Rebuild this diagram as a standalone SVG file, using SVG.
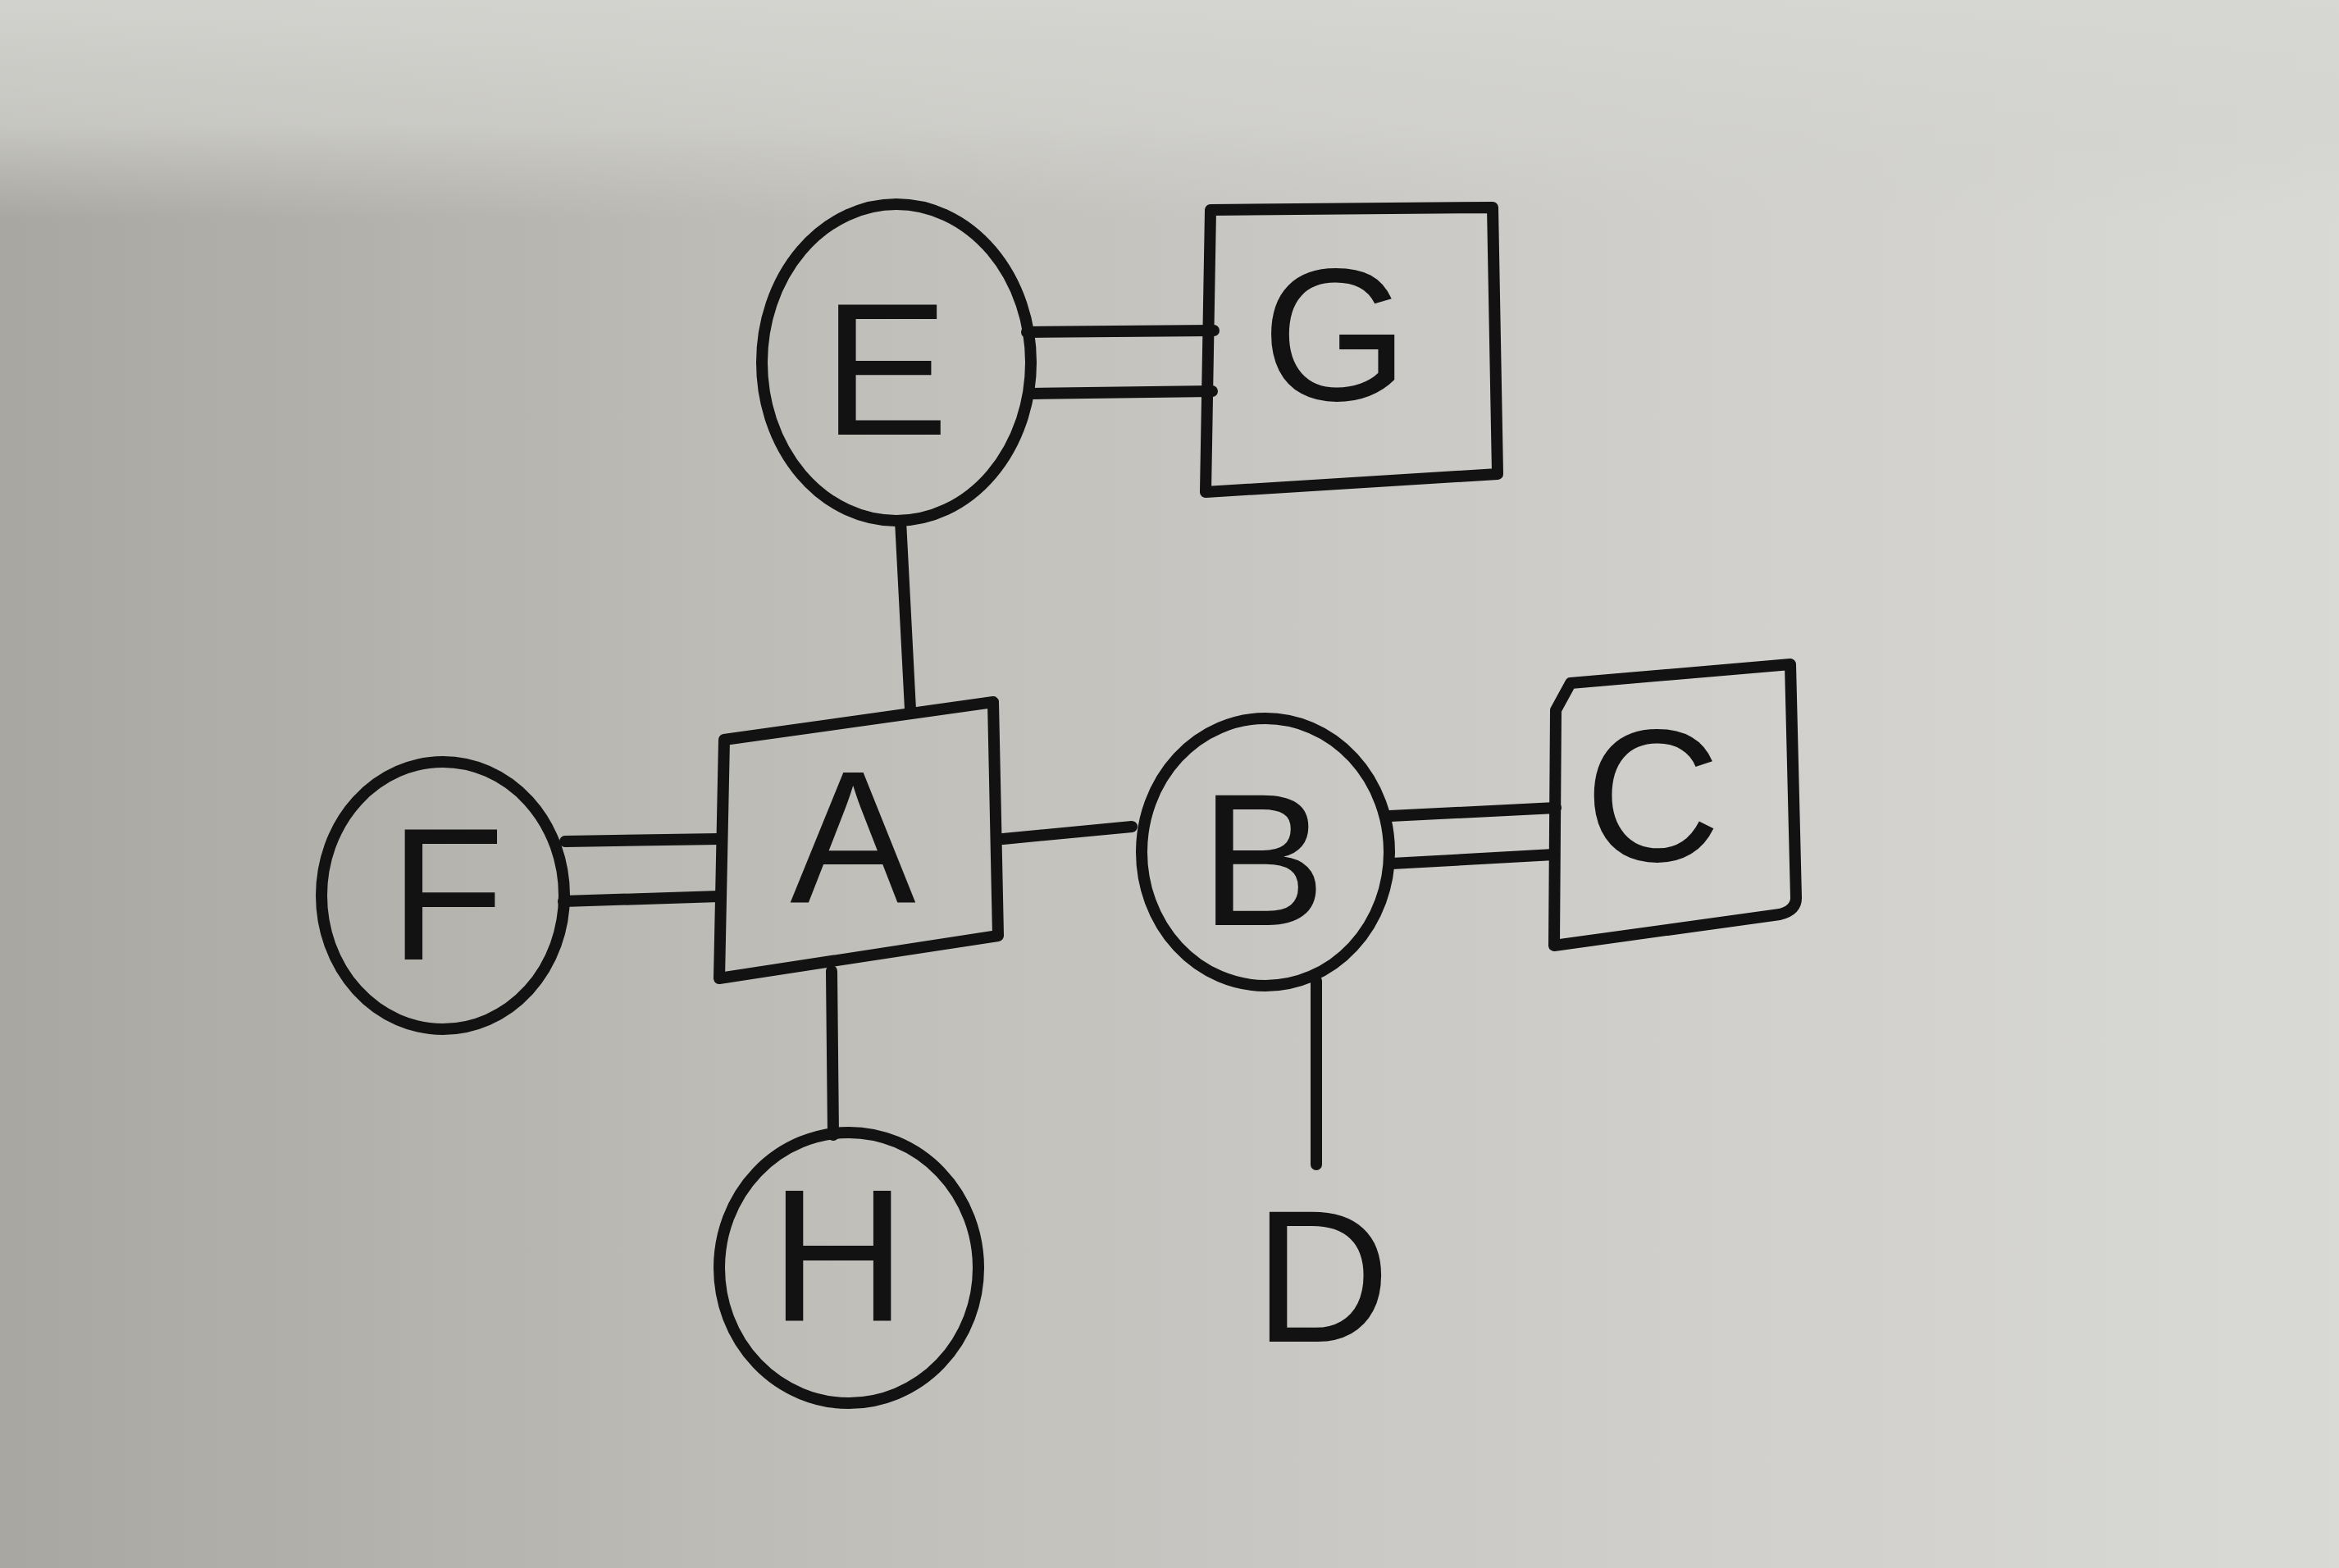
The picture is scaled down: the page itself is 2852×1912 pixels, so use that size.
<svg xmlns="http://www.w3.org/2000/svg" width="2852" height="1912" viewBox="0 0 2852 1912">
<defs>
<linearGradient id="paper" x1="0" y1="0" x2="1" y2="0">
<stop offset="0" stop-color="#a8a7a2"/>
<stop offset="0.35" stop-color="#bfbeb9"/>
<stop offset="0.7" stop-color="#cfcecb"/>
<stop offset="1" stop-color="#d9d9d6"/>
</linearGradient>
<linearGradient id="topband" x1="0" y1="0" x2="0" y2="1">
<stop offset="0" stop-color="#d6d6d2" stop-opacity="0.9"/>
<stop offset="0.08" stop-color="#d3d3cf" stop-opacity="0.7"/>
<stop offset="0.14" stop-color="#d0d0cc" stop-opacity="0"/>
<stop offset="1" stop-color="#d0d0cc" stop-opacity="0"/>
</linearGradient>
<style>
.ink{fill:none;stroke:#121212;stroke-width:14;stroke-linecap:round;stroke-linejoin:round}
.lbl{font-family:"Liberation Sans",Arial,sans-serif;font-size:230px;fill:#121212;text-anchor:middle}
</style>
</defs>
<rect width="2852" height="1912" fill="url(#paper)"/>
<rect width="2852" height="1912" fill="url(#topband)"/>

<g id="connectors">
<path class="ink" d="M1252 405 L1480 403"/>
<path class="ink" d="M1257 480 L1478 477"/>
<path class="ink" d="M1098 635 L1110 865"/>
<path class="ink" d="M689 1026 L877 1023"/>
<path class="ink" d="M687 1099 L877 1093"/>
<path class="ink" d="M1223 1023 L1380 1008"/>
<path class="ink" d="M1695 995 L1897 985"/>
<path class="ink" d="M1697 1053 L1895 1042"/>
<path class="ink" d="M1605 1196 L1605 1420"/>
<path class="ink" d="M1014 1184 L1016 1384"/>
</g>

<g id="node-E">
<ellipse class="ink" cx="1093" cy="442" rx="164" ry="193"/>
<text class="lbl" x="1080" y="530">E</text>
</g>
<g id="node-G">
<polygon class="ink" points="1476,256 1820,253 1826,578 1470,600"/>
<text class="lbl" x="1628" y="488">G</text>
</g>
<g id="node-A">
<polygon class="ink" points="883,902 1211,856 1217,1141 877,1193"/>
<text class="lbl" x="1040" y="1100">A</text>
</g>
<g id="node-F">
<ellipse class="ink" cx="540" cy="1092" rx="148" ry="163"/>
<text class="lbl" x="545" y="1170">F</text>
</g>
<g id="node-B">
<ellipse class="ink" cx="1543" cy="1039" rx="151" ry="163"/>
<text class="lbl" x="1540" y="1128">B</text>
</g>
<g id="node-C">
<path class="ink" d="M1915 833 L2183 810 L2190 1095 Q2190 1110 2170 1115 L1895 1153 L1897 866 Z"/>
<text class="lbl" x="2015" y="1050">C</text>
</g>
<g id="node-D">
<text class="lbl" x="1612" y="1636">D</text>
</g>
<g id="node-H">
<ellipse class="ink" cx="1035" cy="1546" rx="158" ry="165"/>
<text class="lbl" x="1022" y="1610">H</text>
</g>
</svg>
